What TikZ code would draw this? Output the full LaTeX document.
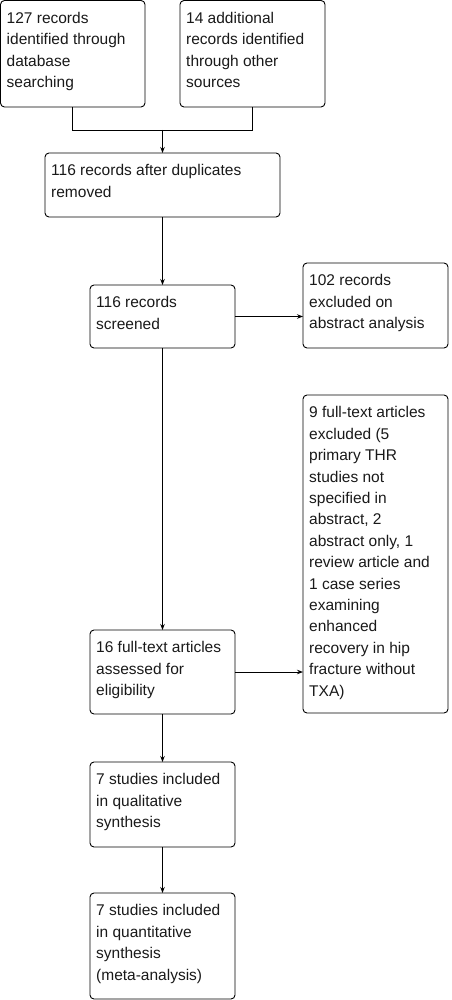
\documentclass[tikz,border=0pt]{standalone}
\usepackage{fontspec}
\setmainfont{Liberation Sans}
\usetikzlibrary{arrows.meta,calc}
\begin{document}
\begin{tikzpicture}[x=1pt,y=-1pt,
  box/.style={draw=black,line width=0.9pt,rounded corners=4pt,inner sep=0pt,outer sep=0pt,anchor=north west},
  txt/.style={anchor=north west,inner sep=0pt,align=left,font=\fontsize{15.5}{21.4}\selectfont,text=black!90},
  conn/.style={draw=black,line width=0.9pt},
  arr/.style={conn,-{Stealth[length=6pt,width=4.5pt]}}]
\useasboundingbox (0,0) rectangle (451,1000);
% boxes
\node[box,minimum width=144.5pt,minimum height=106.5pt] (A) at (0.5,0.5) {};
\node[box,minimum width=145pt,minimum height=106.5pt] (B) at (180,0.5) {};
\node[box,minimum width=235pt,minimum height=64pt] (C) at (45,153) {};
\node[box,minimum width=145pt,minimum height=63pt] (D) at (90,285) {};
\node[box,minimum width=145pt,minimum height=85pt] (E) at (303,263) {};
\node[box,minimum width=145pt,minimum height=318pt] (F) at (303,395) {};
\node[box,minimum width=145pt,minimum height=84pt] (G) at (90,630) {};
\node[box,minimum width=145pt,minimum height=85pt] (H) at (90,762) {};
\node[box,minimum width=145pt,minimum height=106pt] (I) at (90,893) {};
% texts
\node[txt] (tA) at ($(A.north west)+(6,11.5)$) {127 records\\identified through\\database\\searching};
\node[txt] (tB) at ($(B.north west)+(6,11.5)$) {14 additional\\records identified\\through other\\sources};
\node[txt] (tC) at ($(C.north west)+(6,11.5)$) {116 records after duplicates\\removed};
\node[txt] (tD) at ($(D.north west)+(6,11.5)$) {116 records\\screened};
\node[txt] (tE) at ($(E.north west)+(6,11.5)$) {102 records\\excluded on\\abstract analysis};
\node[txt] (tF) at ($(F.north west)+(6,11.5)$) {9 full-text articles\\excluded (5\\primary THR\\studies not\\specified in\\abstract, 2\\abstract only, 1\\review article and\\1 case series\\examining\\enhanced\\recovery in hip\\fracture without\\TXA)};
\node[txt] (tG) at ($(G.north west)+(6,11.5)$) {16 full-text articles\\assessed for\\eligibility};
\node[txt] (tH) at ($(H.north west)+(6,11.5)$) {7 studies included\\in qualitative\\synthesis};
\node[txt] (tI) at ($(I.north west)+(6,11.5)$) {7 studies included\\in quantitative\\synthesis\\(meta-analysis)};
% connectors
\coordinate (m) at (C.north |- 0,130);
\draw[conn] (A.south) |- (m);
\draw[conn] (B.south) |- (m);
\draw[arr] (m) -- (C.north);
\draw[arr] (C.south -| D.north) -- (D.north);
\draw[arr] (D.east) -- (D.east -| E.west);
\draw[arr] (D.south) -- (G.north);
\draw[arr] (G.east) -- (G.east -| F.west);
\draw[arr] (G.south) -- (H.north);
\draw[arr] (H.south) -- (I.north);
\end{tikzpicture}
\end{document}
